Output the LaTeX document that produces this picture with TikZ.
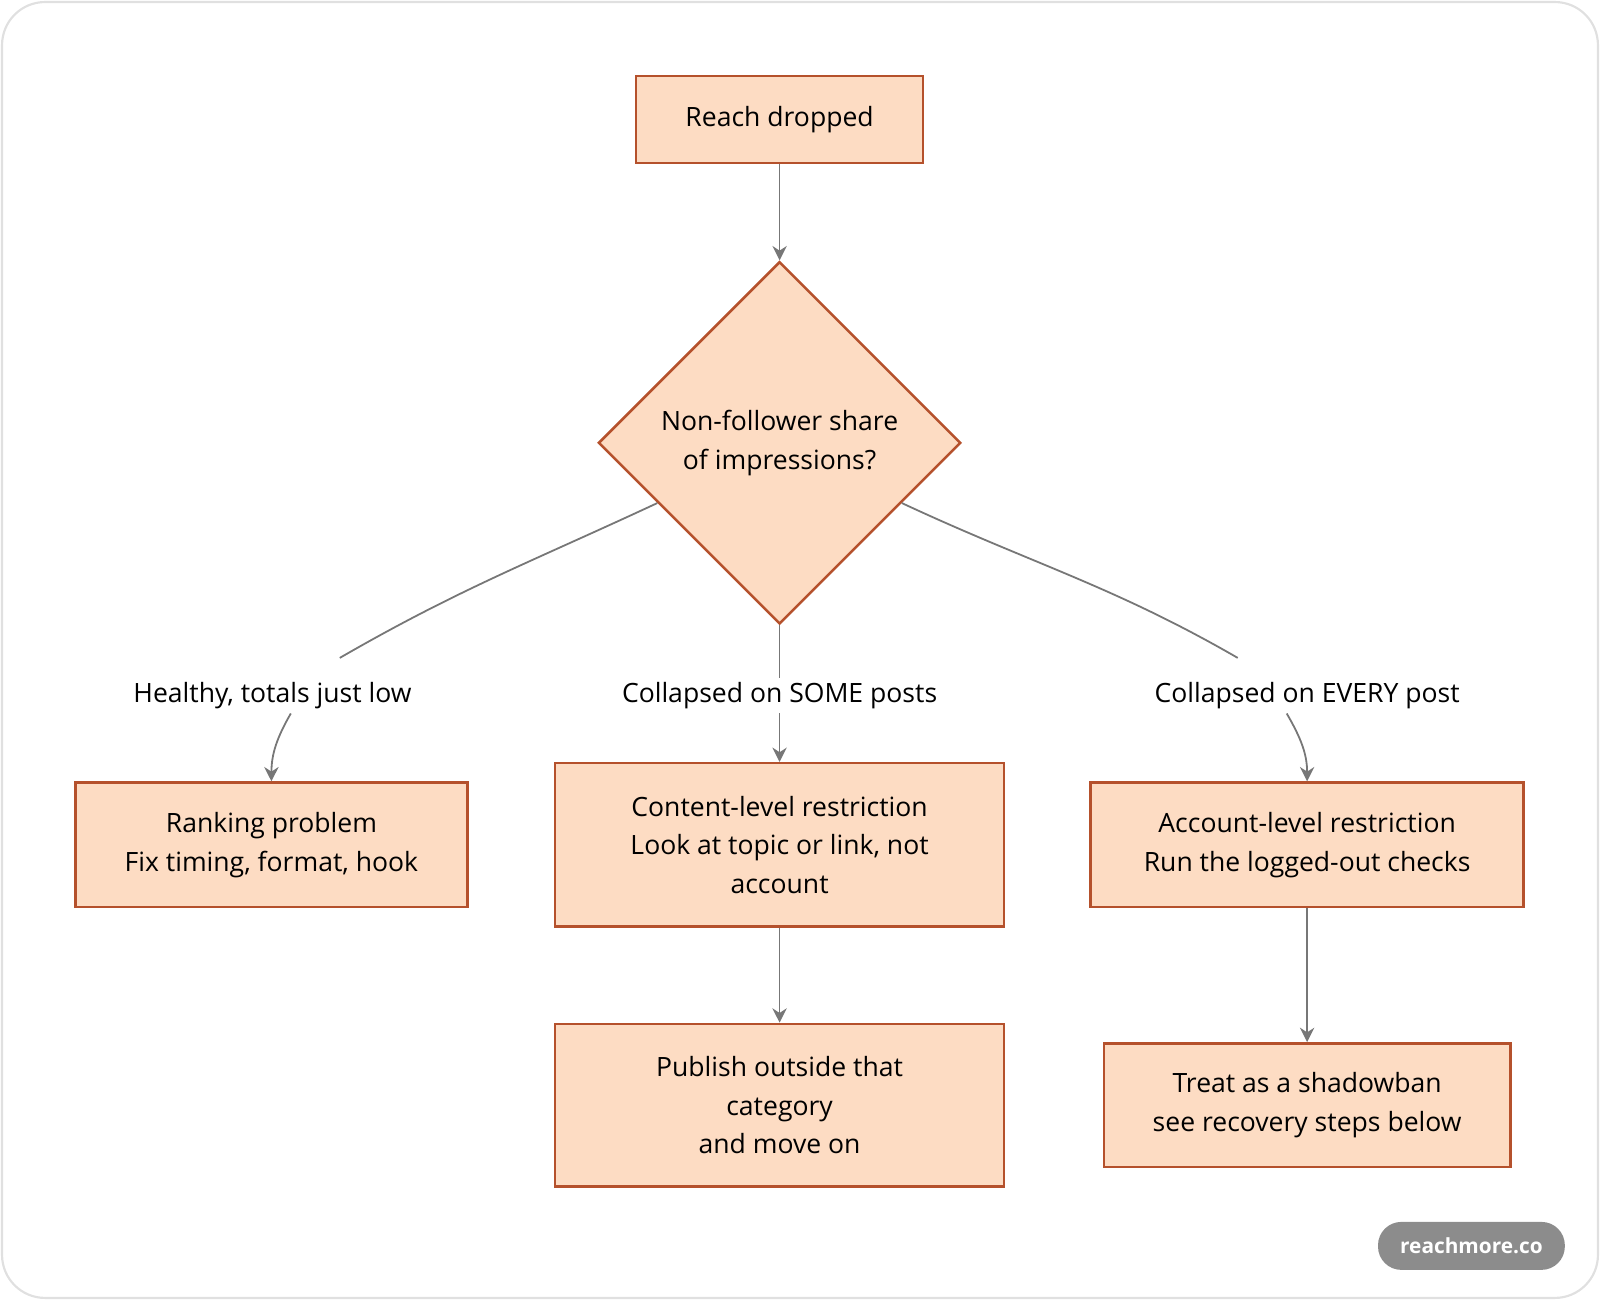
\documentclass[tikz,border=0pt]{standalone}
\usepackage{fontspec}
\setmainfont{Open Sans}
\usetikzlibrary{shapes.geometric,calc,arrows.meta}
\definecolor{boxfill}{HTML}{FDDCC3}
\definecolor{boxline}{HTML}{B5512C}
\definecolor{edgegray}{HTML}{777777}
\tikzset{
  stage/.style={draw=boxline,fill=boxfill,line width=0.7pt,align=center,font=\fontsize{7.4}{10.8}\selectfont,inner sep=0pt},
  choice/.style={stage,diamond,shape aspect=1,minimum size=3.55cm},
  tag/.style={font=\fontsize{7.4}{10.8}\selectfont,inner sep=1pt,fill=white},
  link/.style={draw=edgegray,line width=0.5pt,-{Stealth[length=4pt,width=4pt]}},
  wire/.style={draw=edgegray,line width=0.5pt}
}
\begin{document}
\begin{tikzpicture}[x=0.01cm,y=-0.01cm]
\useasboundingbox (0,0) rectangle (1568,1274);
\draw[draw=black!12,line width=0.6pt,rounded corners=12pt] (2,2) rectangle (1566,1272);
% nodes
\node[stage,minimum width=2.81cm,minimum height=0.85cm] (reach) at (764,117) {Reach dropped};
\node[choice] (share) at (764,434) {Non-follower share\\of impressions?};
\node[tag] (healthy) at (267,682) {Healthy, totals just low};
\node[tag] (some) at (764,682) {Collapsed on SOME posts};
\node[tag] (every) at (1281,682) {Collapsed on EVERY post};
\node[stage,minimum width=3.84cm,minimum height=1.22cm] (rank) at (266,828) {Ranking problem\\Fix timing, format, hook};
\node[stage,minimum width=4.40cm,minimum height=1.60cm] (content) at (764,828) {Content-level restriction\\Look at topic or link, not\\account};
\node[stage,minimum width=4.24cm,minimum height=1.22cm] (account) at (1281,828) {Account-level restriction\\Run the logged-out checks};
\node[stage,minimum width=4.40cm,minimum height=1.59cm] (publish) at (764,1083) {Publish outside that\\category\\and move on};
\node[stage,minimum width=3.98cm,minimum height=1.21cm] (treat) at (1281,1083) {Treat as a shadowban\\see recovery steps below};
% connectors
\draw[link] (reach) -- (share);
\coordinate (sl) at ($(share.west)!0.33!(share.south)$);
\coordinate (sr) at ($(share.east)!0.33!(share.south)$);
\draw[wire] (sl) to[out=205,in=30] ($(healthy.north)+(66,-20)$);
\draw[link] ($(healthy.south)+(18,0)$) to[out=240,in=90] (rank.north);
\draw[wire] (share.south) -- (some.north);
\draw[link] (some.south) -- (content.north);
\draw[wire] (sr) to[out=-25,in=150] ($(every.north)+(-68,-20)$);
\draw[link] ($(every.south)+(-20,0)$) to[out=-60,in=90] (account.north);
\draw[link] (content) -- (publish);
\draw[link] (account) -- (treat);
% badge
\node[fill=black!45,text=white,rounded corners=6.5pt,minimum width=1.83cm,minimum height=0.47cm,font=\fontsize{5.8}{8}\selectfont\bfseries] (badge) at (1442,1221) {reachmore.co};
\end{tikzpicture}
\end{document}
